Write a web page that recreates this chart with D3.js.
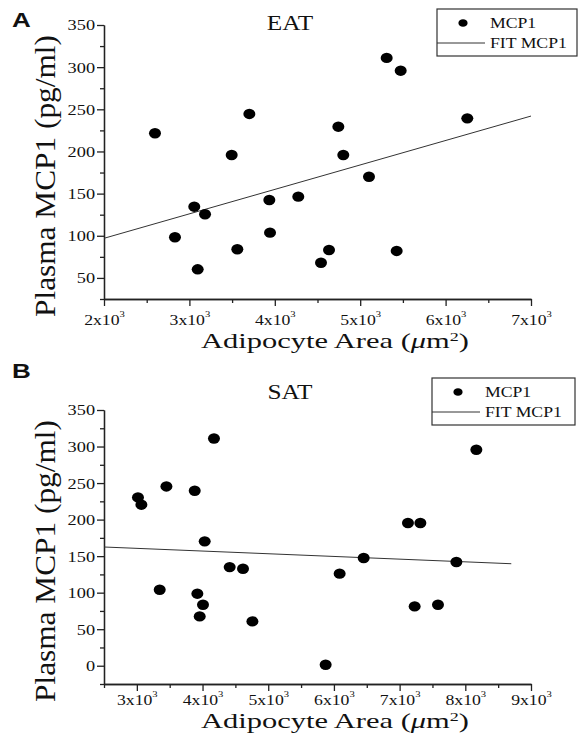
<!DOCTYPE html>
<html><head><meta charset="utf-8">
<script src="https://cdn.jsdelivr.net/npm/d3@7"></script>
<style>body{margin:0;background:#fff}svg{display:block}</style>
</head><body>
<script>
// ---- data ----
const eatArea  = [2597,2831,3057,3097,3183,3495,3561,3702,3936,3944,4275,4541,4635,4744,4802,5103,5310,5427,5474,6254];
const eatMCP1  = [221.6,98.2,134.5,60.2,125.5,195.8,84,244.5,142.4,103.7,146.4,68,83.1,229.4,195.8,170,311,82,295.8,239.3];
const eatFitArea = [2000,7000];
const eatFitMCP1 = [97,242];
const eatXTicks = [2000,3000,4000,5000,6000,7000];
const eatXTickLabels = ["2","3","4","5","6","7"];
const eatYTicks = [50,100,150,200,250,300,350];

const satArea  = [3017,3069,3348,3450,3881,3921,3957,4007,4033,4174,4413,4616,4759,5874,6087,6453,7127,7229,7316,7584,7864,8168];
const satMCP1  = [230.4,220.4,104,245.4,239.5,98.6,67.5,83.5,170.2,311,135,132.8,60.7,1.4,126,147.4,195.3,81.2,195.3,83.5,142,295.6];
const satFitArea = [2500,8700];
const satFitMCP1 = [162.5,139.6];
const satXTicks = [3000,4000,5000,6000,7000,8000,9000];
const satXTickLabels = ["3","4","5","6","7","8","9"];
const satYTicks = [0,50,100,150,200,250,300,350];

const W = 580, H = 733;
const SERIF = "Liberation Serif";
const SANS = "Liberation Sans";
const INK = "#222";

const svg = d3.select("body").append("svg").attr("width", W).attr("height", H);
svg.append("rect").attr("width", W).attr("height", H).attr("fill", "#fff");

function stext(g, x, y, str, size, sx, anchor, family, weight) {
  return g.append("text")
    .attr("transform", `translate(${x},${y}) scale(${sx},1)`)
    .attr("text-anchor", anchor || "start")
    .style("font-family", family || SERIF)
    .style("font-weight", weight || "normal")
    .style("font-size", size + "px")
    .attr("fill", "#111")
    .text(str);
}

function panel(o) {
  const g = svg.append("g");
  const x = d3.scaleLinear().domain(o.xDomain).range([104, 531]);
  const y = d3.scaleLinear().domain(o.yDomain).range([o.yBottom, o.yBottom - 274]);

  // minor ticks
  const xMinor = d3.range(o.xDomain[0], o.xDomain[1] + 1, 500).filter(v => !o.xTicks.includes(v));
  const yMinor = d3.range(o.yDomain[0], o.yDomain[1] + 1, 25).filter(v => !o.yTicks.includes(v));

  g.append("g").attr("transform", `translate(0,${o.yBottom})`)
    .call(d3.axisBottom(x).tickValues(xMinor).tickSize(4).tickSizeOuter(0).tickFormat(""))
    .call(s => s.selectAll("path,line").attr("stroke", INK).attr("stroke-width", 1.3));
  g.append("g").attr("transform", `translate(104,0)`)
    .call(d3.axisLeft(y).tickValues(yMinor).tickSize(4).tickSizeOuter(0).tickFormat(""))
    .call(s => s.selectAll("path,line").attr("stroke", INK).attr("stroke-width", 1.3));

  // major x axis
  const xa = g.append("g").attr("transform", `translate(0,${o.yBottom})`)
    .call(d3.axisBottom(x).tickValues(o.xTicks).tickSize(7).tickSizeOuter(0));
  xa.selectAll("path,line").attr("stroke", INK).attr("stroke-width", 1.3);
  xa.selectAll("text").each(function(d, i) {
    const t = d3.select(this);
    t.text(null).attr("y", o.xTickY).attr("dy", 0)
      .style("font-family", SERIF).style("font-size", "15px").attr("fill", "#111")
      .attr("transform", "scale(1.18,1)");
    t.append("tspan").text(o.xLabels[i] + "x10");
    t.append("tspan").style("font-size", "9px").attr("dy", -8).text("3");
  });

  // major y axis
  const ya = g.append("g").attr("transform", `translate(104,0)`)
    .call(d3.axisLeft(y).tickValues(o.yTicks).tickSize(7).tickSizeOuter(0));
  ya.selectAll("path,line").attr("stroke", INK).attr("stroke-width", 1.3);
  ya.selectAll("text").style("font-family", SERIF).style("font-size", "15.5px").attr("fill", "#111")
    .attr("x", -9 / 1.18).attr("transform", "scale(1.18,1)");

  // fit line
  g.append("path")
    .datum(o.fitX.map((v, i) => [v, o.fitY[i]]))
    .attr("d", d3.line().x(d => x(d[0])).y(d => y(d[1])))
    .attr("stroke", "#333").attr("stroke-width", 1).attr("fill", "none");

  // points
  g.selectAll("ellipse.pt").data(o.px.map((v, i) => [v, o.py[i]])).join("ellipse")
    .attr("class", "pt")
    .attr("cx", d => x(d[0])).attr("cy", d => y(d[1]))
    .attr("rx", 6).attr("ry", 5.2).attr("fill", "#000");

  // title & panel letter
  stext(g, 290, o.titleY, o.title, 22, 1.15, "middle");
  stext(g, 12, o.letterY, o.letter, 20, 1.3, "start", SANS, "bold");

  // axis labels
  g.append("text")
    .attr("x", 201).attr("y", o.xLabelY)
    .style("font-family", SERIF).style("font-size", "22px").attr("fill", "#111")
    .attr("textLength", 268).attr("lengthAdjust", "spacingAndGlyphs")
    .call(t => {
      t.append("tspan").text("Adipocyte Area (");
      t.append("tspan").style("font-style", "italic").text("\u03bc");
      t.append("tspan").text("m");
      t.append("tspan").style("font-size", "13px").attr("dy", -7).text("2");
      t.append("tspan").attr("dy", 7).text(")");
    });
  g.append("text")
    .attr("transform", `translate(55,${o.yLabelC}) rotate(-90)`)
    .attr("text-anchor", "middle")
    .style("font-family", SERIF).style("font-size", "29px").attr("fill", "#111")
    .attr("textLength", 282).attr("lengthAdjust", "spacingAndGlyphs")
    .text("Plasma MCP1 (pg/ml)");

  // legend
  const L = o.legend;
  g.append("rect").attr("x", L.x).attr("y", L.y).attr("width", L.w).attr("height", L.h)
    .attr("fill", "#fff").attr("stroke", "#333").attr("stroke-width", 1.2);
  g.append("ellipse").attr("cx", L.x + 26).attr("cy", L.y + 14).attr("rx", 4.6).attr("ry", 3.8).attr("fill", "#000");
  stext(g, L.x + 53, L.y + 19, "MCP1", 15, 1.18, "start");
  g.append("line").attr("x1", L.x).attr("x2", L.x + 48).attr("y1", L.y + 34).attr("y2", L.y + 34)
    .attr("stroke", "#333").attr("stroke-width", 1);
  stext(g, L.x + 53, L.y + 39, "FIT MCP1", 15, 1.18, "start");
}

panel({
  xDomain: [2000, 7000], yDomain: [25, 350], yBottom: 299, xTickY: 26,
  xTicks: eatXTicks, xLabels: eatXTickLabels, yTicks: eatYTicks,
  px: eatArea, py: eatMCP1, fitX: eatFitArea, fitY: eatFitMCP1,
  title: "EAT", titleY: 30, letter: "A", letterY: 27, yLabelC: 176, xLabelY: 348,
  legend: {x: 437, y: 9, w: 140, h: 47}
});
panel({
  xDomain: [2500, 9000], yDomain: [-25, 350], yBottom: 684, xTickY: 21,
  xTicks: satXTicks, xLabels: satXTickLabels, yTicks: satYTicks,
  px: satArea, py: satMCP1, fitX: satFitArea, fitY: satFitMCP1,
  title: "SAT", titleY: 399, letter: "B", letterY: 378, yLabelC: 561, xLabelY: 728,
  legend: {x: 432, y: 378, w: 143, h: 47}
});
</script>
</body></html>
